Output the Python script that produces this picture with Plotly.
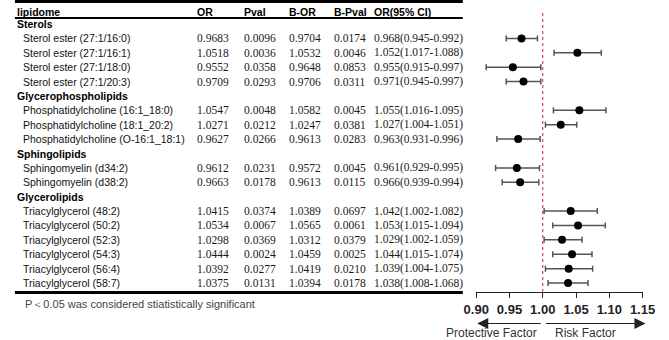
import plotly.graph_objects as go

# ---------------- data ----------------
groups = ["Sterols", "Glycerophospholipids", "Sphingolipids", "Glycerolipids"]
group_of = [0, 0, 0, 0, 1, 1, 1, 2, 2, 3, 3, 3, 3, 3, 3]
lipids = [
    "Sterol ester (27:1/16:0)", "Sterol ester (27:1/16:1)",
    "Sterol ester (27:1/18:0)", "Sterol ester (27:1/20:3)",
    "Phosphatidylcholine (16:1_18:0)", "Phosphatidylcholine (18:1_20:2)",
    "Phosphatidylcholine (O-16:1_18:1)",
    "Sphingomyelin (d34:2)", "Sphingomyelin (d38:2)",
    "Triacylglycerol (48:2)", "Triacylglycerol (50:2)", "Triacylglycerol (52:3)",
    "Triacylglycerol (54:3)", "Triacylglycerol (56:4)", "Triacylglycerol (58:7)",
]
OR_str = ["0.9683", "1.0518", "0.9552", "0.9709", "1.0547", "1.0271", "0.9627",
          "0.9612", "0.9663", "1.0415", "1.0534", "1.0298", "1.0444", "1.0392", "1.0375"]
Pval_str = ["0.0096", "0.0036", "0.0358", "0.0293", "0.0048", "0.0212", "0.0266",
            "0.0231", "0.0178", "0.0374", "0.0067", "0.0369", "0.0024", "0.0277", "0.0131"]
BOR_str = ["0.9704", "1.0532", "0.9648", "0.9706", "1.0582", "1.0247", "0.9613",
           "0.9572", "0.9613", "1.0389", "1.0565", "1.0312", "1.0459", "1.0419", "1.0394"]
BPval_str = ["0.0174", "0.0046", "0.0853", "0.0311", "0.0045", "0.0381", "0.0283",
             "0.0045", "0.0115", "0.0697", "0.0061", "0.0379", "0.0025", "0.0210", "0.0178"]
OR_est = [0.968, 1.052, 0.955, 0.971, 1.055, 1.027, 0.963, 0.961, 0.966,
          1.042, 1.053, 1.029, 1.044, 1.039, 1.038]
CI_low = [0.945, 1.017, 0.915, 0.945, 1.016, 1.004, 0.931, 0.929, 0.939,
          1.002, 1.015, 1.002, 1.015, 1.004, 1.008]
CI_high = [0.992, 1.088, 0.997, 0.997, 1.095, 1.051, 0.996, 0.995, 0.994,
           1.082, 1.094, 1.059, 1.074, 1.075, 1.068]
headers = ["lipidome", "OR", "Pval", "B-OR", "B-Pval", "OR(95% CI)"]
x_ticks = [0.90, 0.95, 1.00, 1.05, 1.10, 1.15]
null_value = 1.0
footnote = "P\uff1c0.05 was considered stiatistically significant"

# ---------------- layout helpers ----------------
W, H = 669, 340
def px_x(p):
    return p / W
def px_y(p):
    return (H - p) / H

# row positions: group header rows and item rows
row_y = []
group_y = {}
r = 0
last_g = None
for g in group_of:
    if g != last_g:
        group_y[g] = r
        r += 1
        last_g = g
    row_y.append(r)
    r += 1

row_px = 14.39
top_val = -24 / row_px
axis_px = 292
bottom_val = top_val + axis_px / row_px

fig = go.Figure()

fig.add_trace(go.Scatter(
    x=OR_est, y=row_y, mode="markers",
    marker=dict(color="black", size=8),
    error_x=dict(type="data", symmetric=False,
                 array=[h - o for h, o in zip(CI_high, OR_est)],
                 arrayminus=[o - l for o, l in zip(OR_est, CI_low)],
                 color="#555555", thickness=1.5, width=3),
    showlegend=False, hoverinfo="skip", cliponaxis=False,
))

ann = []
num_font = dict(family="Liberation Serif, DejaVu Serif, serif", size=11.5, color="#1a1a1a")
lab_font = dict(family="Liberation Sans, Arial, sans-serif", size=10.5, color="#111")
bold_font = dict(family="Liberation Sans, Arial, sans-serif", size=10.5, color="#000", weight="bold")

col_x = [2, 189, 238, 285, 332, 374]
header_y = top_val + 11.5 / row_px
for hx, h in zip(col_x, headers):
    ann.append(dict(x=px_x(hx), xref="paper", y=header_y, yref="y", text="<b>%s</b>" % h,
                    xanchor="left", yanchor="middle", showarrow=False, font=bold_font))
for g, name in enumerate(groups):
    ann.append(dict(x=px_x(2), xref="paper", y=group_y[g], yref="y", text="<b>%s</b>" % name,
                    xanchor="left", yanchor="middle", showarrow=False, font=bold_font))
for i, name in enumerate(lipids):
    y = row_y[i]
    ann.append(dict(x=px_x(8), xref="paper", y=y, yref="y", text=name,
                    xanchor="left", yanchor="middle", showarrow=False, font=lab_font))
    ci_txt = "%.3f(%.3f-%.3f)" % (OR_est[i], CI_low[i], CI_high[i])
    for cx, t in zip(col_x[1:], [OR_str[i], Pval_str[i], BOR_str[i], BPval_str[i], ci_txt]):
        ann.append(dict(x=px_x(cx), xref="paper", y=y, yref="y", text=t,
                        xanchor="left", yanchor="middle", showarrow=False, font=num_font))

ann.append(dict(x=px_x(10), xref="paper", y=px_y(304), yref="paper", text=footnote,
                xanchor="left", yanchor="middle", showarrow=False,
                font=dict(family="Liberation Sans, Arial, sans-serif", size=11, color="#444")))

# direction arrows and labels
ann.append(dict(x=px_x(483), y=px_y(323.5), xref="paper", yref="paper", ax=65, ay=0,
                axref="pixel", ayref="pixel", text="", showarrow=True,
                arrowhead=2, arrowsize=2.2, arrowwidth=1, arrowcolor="#222"))
ann.append(dict(x=px_x(658), y=px_y(323.5), xref="paper", yref="paper", ax=-101, ay=0,
                axref="pixel", ayref="pixel", text="", showarrow=True,
                arrowhead=2, arrowsize=2.2, arrowwidth=1, arrowcolor="#222"))
ann.append(dict(x=px_x(498), y=px_y(333), xref="paper", yref="paper", text="Protective Factor",
                showarrow=False, xanchor="center", yanchor="middle",
                font=dict(family="Liberation Sans, Arial, sans-serif", size=12, color="#333")))
ann.append(dict(x=px_x(596), y=px_y(333), xref="paper", yref="paper", text="Risk Factor",
                showarrow=False, xanchor="center", yanchor="middle",
                font=dict(family="Liberation Sans, Arial, sans-serif", size=12, color="#333")))

shapes = [
    dict(type="line", xref="paper", yref="paper", x0=px_x(2), x1=px_x(468),
         y0=px_y(1.5), y1=px_y(1.5), line=dict(color="black", width=3)),
    dict(type="line", xref="paper", yref="paper", x0=px_x(2), x1=px_x(468),
         y0=px_y(18), y1=px_y(18), line=dict(color="black", width=2)),
    dict(type="line", xref="paper", yref="paper", x0=px_x(2), x1=px_x(468),
         y0=px_y(292.5), y1=px_y(292.5), line=dict(color="black", width=3)),
    dict(type="line", xref="x", yref="paper", x0=null_value, x1=null_value,
         y0=px_y(13), y1=px_y(axis_px), line=dict(color="#d0202a", width=1, dash="dot"),
         layer="below"),
]

fig.update_layout(
    width=W, height=H,
    margin=dict(l=0, r=0, t=0, b=0),
    paper_bgcolor="white", plot_bgcolor="white",
    annotations=ann, shapes=shapes,
    xaxis=dict(domain=[px_x(482), px_x(655)], range=[x_ticks[0], x_ticks[-1]],
               tickvals=x_ticks, ticktext=["%.2f" % v for v in x_ticks],
               showline=True, linecolor="#222", linewidth=1.3,
               ticks="outside", ticklen=5, tickwidth=1.3, tickcolor="#222",
               ticklabelstandoff=0,
               showgrid=False, zeroline=False,
               tickfont=dict(family="Liberation Sans, Arial, sans-serif", size=13,
                             color="#222", weight="bold"),
               anchor="y", fixedrange=True),
    yaxis=dict(domain=[px_y(axis_px), 1], range=[bottom_val, top_val],
               showticklabels=False, showgrid=False, zeroline=False, showline=False,
               ticks="", fixedrange=True),
)

fig.write_html("out.html", config={"displayModeBar": False},
               post_script="document.body.style.margin='0';document.body.style.padding='0';"
                           "document.documentElement.style.overflow='hidden';")
